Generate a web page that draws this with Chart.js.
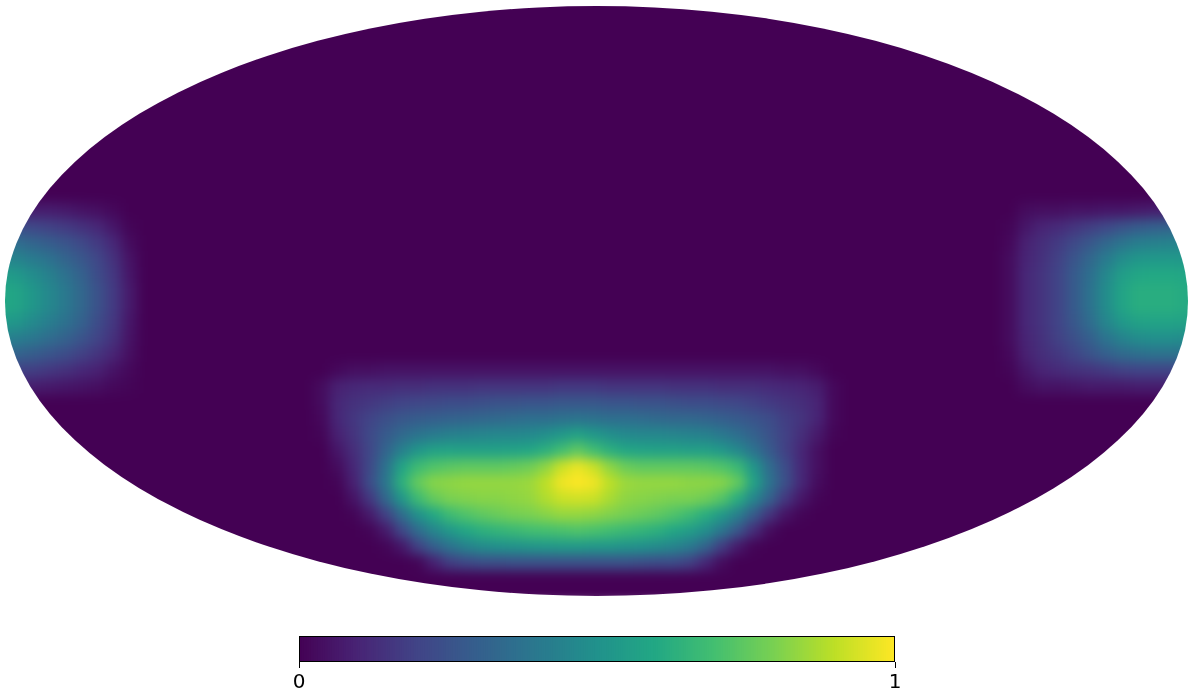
<!DOCTYPE html>
<html>
<head>
<meta charset="utf-8">
<title>Sky map</title>
<script src="https://cdn.jsdelivr.net/npm/chart.js@4"></script>
<style>
  html, body { margin: 0; padding: 0; background: #fff; overflow: hidden; }
  #page { position: relative; width: 1200px; height: 696px; overflow: hidden; }
  #mapChart { position: absolute; left: -32px; top: -32px; filter: blur(6px); }
  #barChart { position: absolute; left: 285px; top: 625px; }
</style>
</head>
<body>
<div id="page">
  <canvas id="mapChart" width="1264" height="640"></canvas>
  <canvas id="barChart" width="630" height="71"></canvas>
</div>
<script>
// Map grid: one value per cell, everything not listed in a patch below is 0
const gridCols = 75;
const gridRows = 38;

// Values x100. First row / first column of each patch:
const bottomRowStart = 23, bottomColStart = 20;
const bottomPatch = [
  [0,2,4,4,5,5,5,5,5,5,5,5,5,5,5,5,5,5,5,5,5,5,5,5,5,5,5,5,5,4,4,2,0],
  [3,9,11,12,12,13,13,14,14,14,15,15,15,15,15,16,16,16,15,15,15,15,14,14,14,13,13,13,12,11,10,8,2],
  [3,11,14,16,18,20,21,22,23,23,24,25,25,26,26,27,27,27,26,26,25,25,24,23,23,22,21,19,17,15,13,10,2],
  [2,11,16,20,24,27,29,30,31,32,33,34,35,36,36,37,38,37,36,36,35,34,33,33,32,30,28,26,23,18,15,10,2],
  [1,9,15,22,28,34,38,41,43,44,45,46,46,47,49,53,57,53,49,47,46,46,45,44,43,40,36,31,25,19,13,7,1],
  [0,6,13,21,32,43,52,57,58,57,57,57,58,59,63,69,75,69,63,59,58,57,57,56,56,53,47,38,28,19,11,4,0],
  [0,3,11,22,37,58,68,72,74,75,75,75,76,78,83,92,97,92,83,77,75,75,75,75,74,72,67,52,35,23,11,4,0],
  [0,1,9,23,39,63,76,82,83,84,84,84,84,85,90,98,100,98,90,85,84,84,84,83,83,82,76,58,38,24,11,3,0],
  [0,0,5,16,33,52,68,76,80,81,82,82,83,84,88,92,93,92,87,83,82,81,80,80,78,73,62,46,31,16,6,1,0],
  [0,0,1,7,19,35,50,60,68,72,75,77,79,80,82,84,84,83,81,79,77,75,72,68,62,54,43,29,15,5,1,0,0],
  [0,0,0,1,7,21,35,45,53,59,63,65,67,69,70,71,72,71,69,67,65,63,59,55,49,39,27,13,3,0,0,0,0],
  [0,0,0,0,1,6,19,30,38,44,48,50,51,52,53,54,54,53,53,51,50,48,45,41,32,18,7,1,0,0,0,0,0],
  [0,0,0,0,0,0,1,9,18,22,24,24,25,25,25,25,25,25,25,25,24,23,23,19,11,3,0,0,0,0,0,0,0]
];

const leftRowStart = 13, leftColStart = 0;
const leftPatch = [
  [8,8,8,8,7,5,4,2,0],
  [24,23,21,19,17,14,11,6,1],
  [36,35,32,29,26,22,17,11,3],
  [45,44,41,37,32,27,21,14,5],
  [55,53,48,43,37,31,23,16,6],
  [60,58,52,46,40,33,25,17,7],
  [60,58,52,46,40,33,25,17,7],
  [54,52,47,42,37,31,23,16,6],
  [44,42,39,35,31,26,20,14,5],
  [33,31,29,26,23,19,15,10,4],
  [20,19,18,16,14,11,9,5,2],
  [9,9,8,7,6,5,4,2,1]
];

const rightRowStart = 13, rightColStart = 63;
const rightPatch = [
  [0,3,4,4,5,5,6,6,7,8,8,8],
  [1,6,10,12,15,18,21,25,28,30,31,31],
  [2,9,13,17,22,27,33,38,42,43,44,44],
  [3,10,14,19,26,33,41,48,52,53,53,53],
  [3,11,15,20,28,36,46,55,59,60,60,59],
  [3,11,15,20,28,37,48,58,62,62,62,61],
  [3,11,15,20,28,37,48,58,62,62,62,61],
  [3,11,15,20,27,35,45,53,57,58,58,57],
  [3,10,14,19,24,30,38,44,48,49,49,48],
  [2,9,13,16,20,25,30,34,36,37,37,37],
  [1,6,10,12,14,15,17,19,20,20,20,20],
  [0,3,5,5,6,7,7,7,8,8,8,8]
];

// Colour bar
const barTicks = [0, 1];
const barSteps = 256;

// Viridis, eleven even stops
const viridis = [
  [68,1,84],[72,36,117],[65,68,135],[53,95,141],[42,120,142],[33,145,140],
  [34,168,132],[68,191,112],[122,209,81],[189,223,38],[253,231,37]
];

function colorFor(v) {
  let pos = Math.min(Math.max(v, 0), 1) * (viridis.length - 1);
  let i = Math.min(Math.floor(pos), viridis.length - 2);
  let t = pos - i;
  let rgb = viridis[i].map((c, k) => Math.round(c + (viridis[i + 1][k] - c) * t));
  return `rgb(${rgb[0]},${rgb[1]},${rgb[2]})`;
}

function patchValue(patch, rowStart, colStart, row, col) {
  let r = patch[row - rowStart];
  if (!r) return null;
  let v = r[col - colStart];
  return v === undefined ? null : v;
}

function cellValue(row, col) {
  // padding cells outside the ellipse repeat the edge cell
  let c = Math.min(Math.max(col, 0), gridCols - 1);
  let v = patchValue(bottomPatch, bottomRowStart, bottomColStart, row, c);
  if (v === null) v = patchValue(leftPatch, leftRowStart, leftColStart, row, c);
  if (v === null) v = patchValue(rightPatch, rightRowStart, rightColStart, row, c);
  return v === null ? 0 : v / 100;
}

let mapPoints = [];
let mapColors = [];
for (let row = -2; row < gridRows; row++) {
  for (let col = -2; col < gridCols + 2; col++) {
    let v = cellValue(row, col);
    mapPoints.push({ x: col, y: row });
    mapColors.push(colorFor(v));
  }
}

let mapChart = new Chart(document.getElementById('mapChart'), {
  type: 'scatter',
  data: {
    datasets: [{
      data: mapPoints,
      pointStyle: 'rect',
      pointRadius: 12,
      pointBorderWidth: 0,
      pointBackgroundColor: mapColors
    }]
  },
  options: {
    responsive: false,
    animation: false,
    events: [],
    layout: { padding: 0, autoPadding: false },
    plugins: { legend: { display: false }, tooltip: { enabled: false } },
    scales: {
      x: { type: 'linear', display: false, min: -2.125, max: 76.875 },
      y: { type: 'linear', display: false, reverse: true, min: -2.1875, max: 37.8125 }
    }
  }
});

// Mollweide outline in grid units, applied to the canvas once the scales exist
let sx = mapChart.scales.x, sy = mapChart.scales.y;
let cx = sx.getPixelForValue(37.156), cy = sy.getPixelForValue(18.625);
let rx = sx.getPixelForValue(37.156 + 36.97) - cx;
let ry = sy.getPixelForValue(18.625 + 18.44) - cy;
mapChart.canvas.style.clipPath = `ellipse(${rx}px ${ry}px at ${cx}px ${cy}px)`;

// Colour bar
let barPoints = [];
let barColors = [];
for (let i = 0; i <= barSteps; i++) {
  barPoints.push({ x: i / barSteps, y: 1 });
  barColors.push(colorFor(i / barSteps));
}

const frame = {
  id: 'frame',
  afterDraw(chart) {
    let a = chart.chartArea, ctx = chart.ctx;
    ctx.save();
    ctx.strokeStyle = '#000';
    ctx.lineWidth = 1;
    ctx.strokeRect(a.left + 0.5, a.top + 0.5, a.width - 1, a.height - 1);
    ctx.restore();
  }
};

new Chart(document.getElementById('barChart'), {
  type: 'bar',
  data: {
    datasets: [{
      data: barPoints,
      backgroundColor: barColors,
      borderWidth: 0,
      inflateAmount: 1,
      barPercentage: 1,
      categoryPercentage: 1
    }]
  },
  plugins: [frame],
  options: {
    responsive: false,
    animation: false,
    events: [],
    layout: { padding: { left: 14, right: 20, top: 11, bottom: 0 } },
    plugins: { legend: { display: false }, tooltip: { enabled: false } },
    scales: {
      x: {
        type: 'linear',
        offset: false,
        min: 0,
        max: 1,
        afterBuildTicks(axis) { axis.ticks = barTicks.map(v => ({ value: v })); },
        afterFit(axis) { axis.height = 34; },
        grid: { offset: false, drawOnChartArea: false, drawTicks: true, tickLength: 6, color: '#000' },
        border: { display: false },
        ticks: {
          autoSkip: false,
          maxRotation: 0,
          padding: 3,
          color: '#000',
          font: { family: '"DejaVu Sans"', size: 20 }
        }
      },
      y: { display: false, min: 0, max: 1 }
    }
  }
});
</script>
</body>
</html>
